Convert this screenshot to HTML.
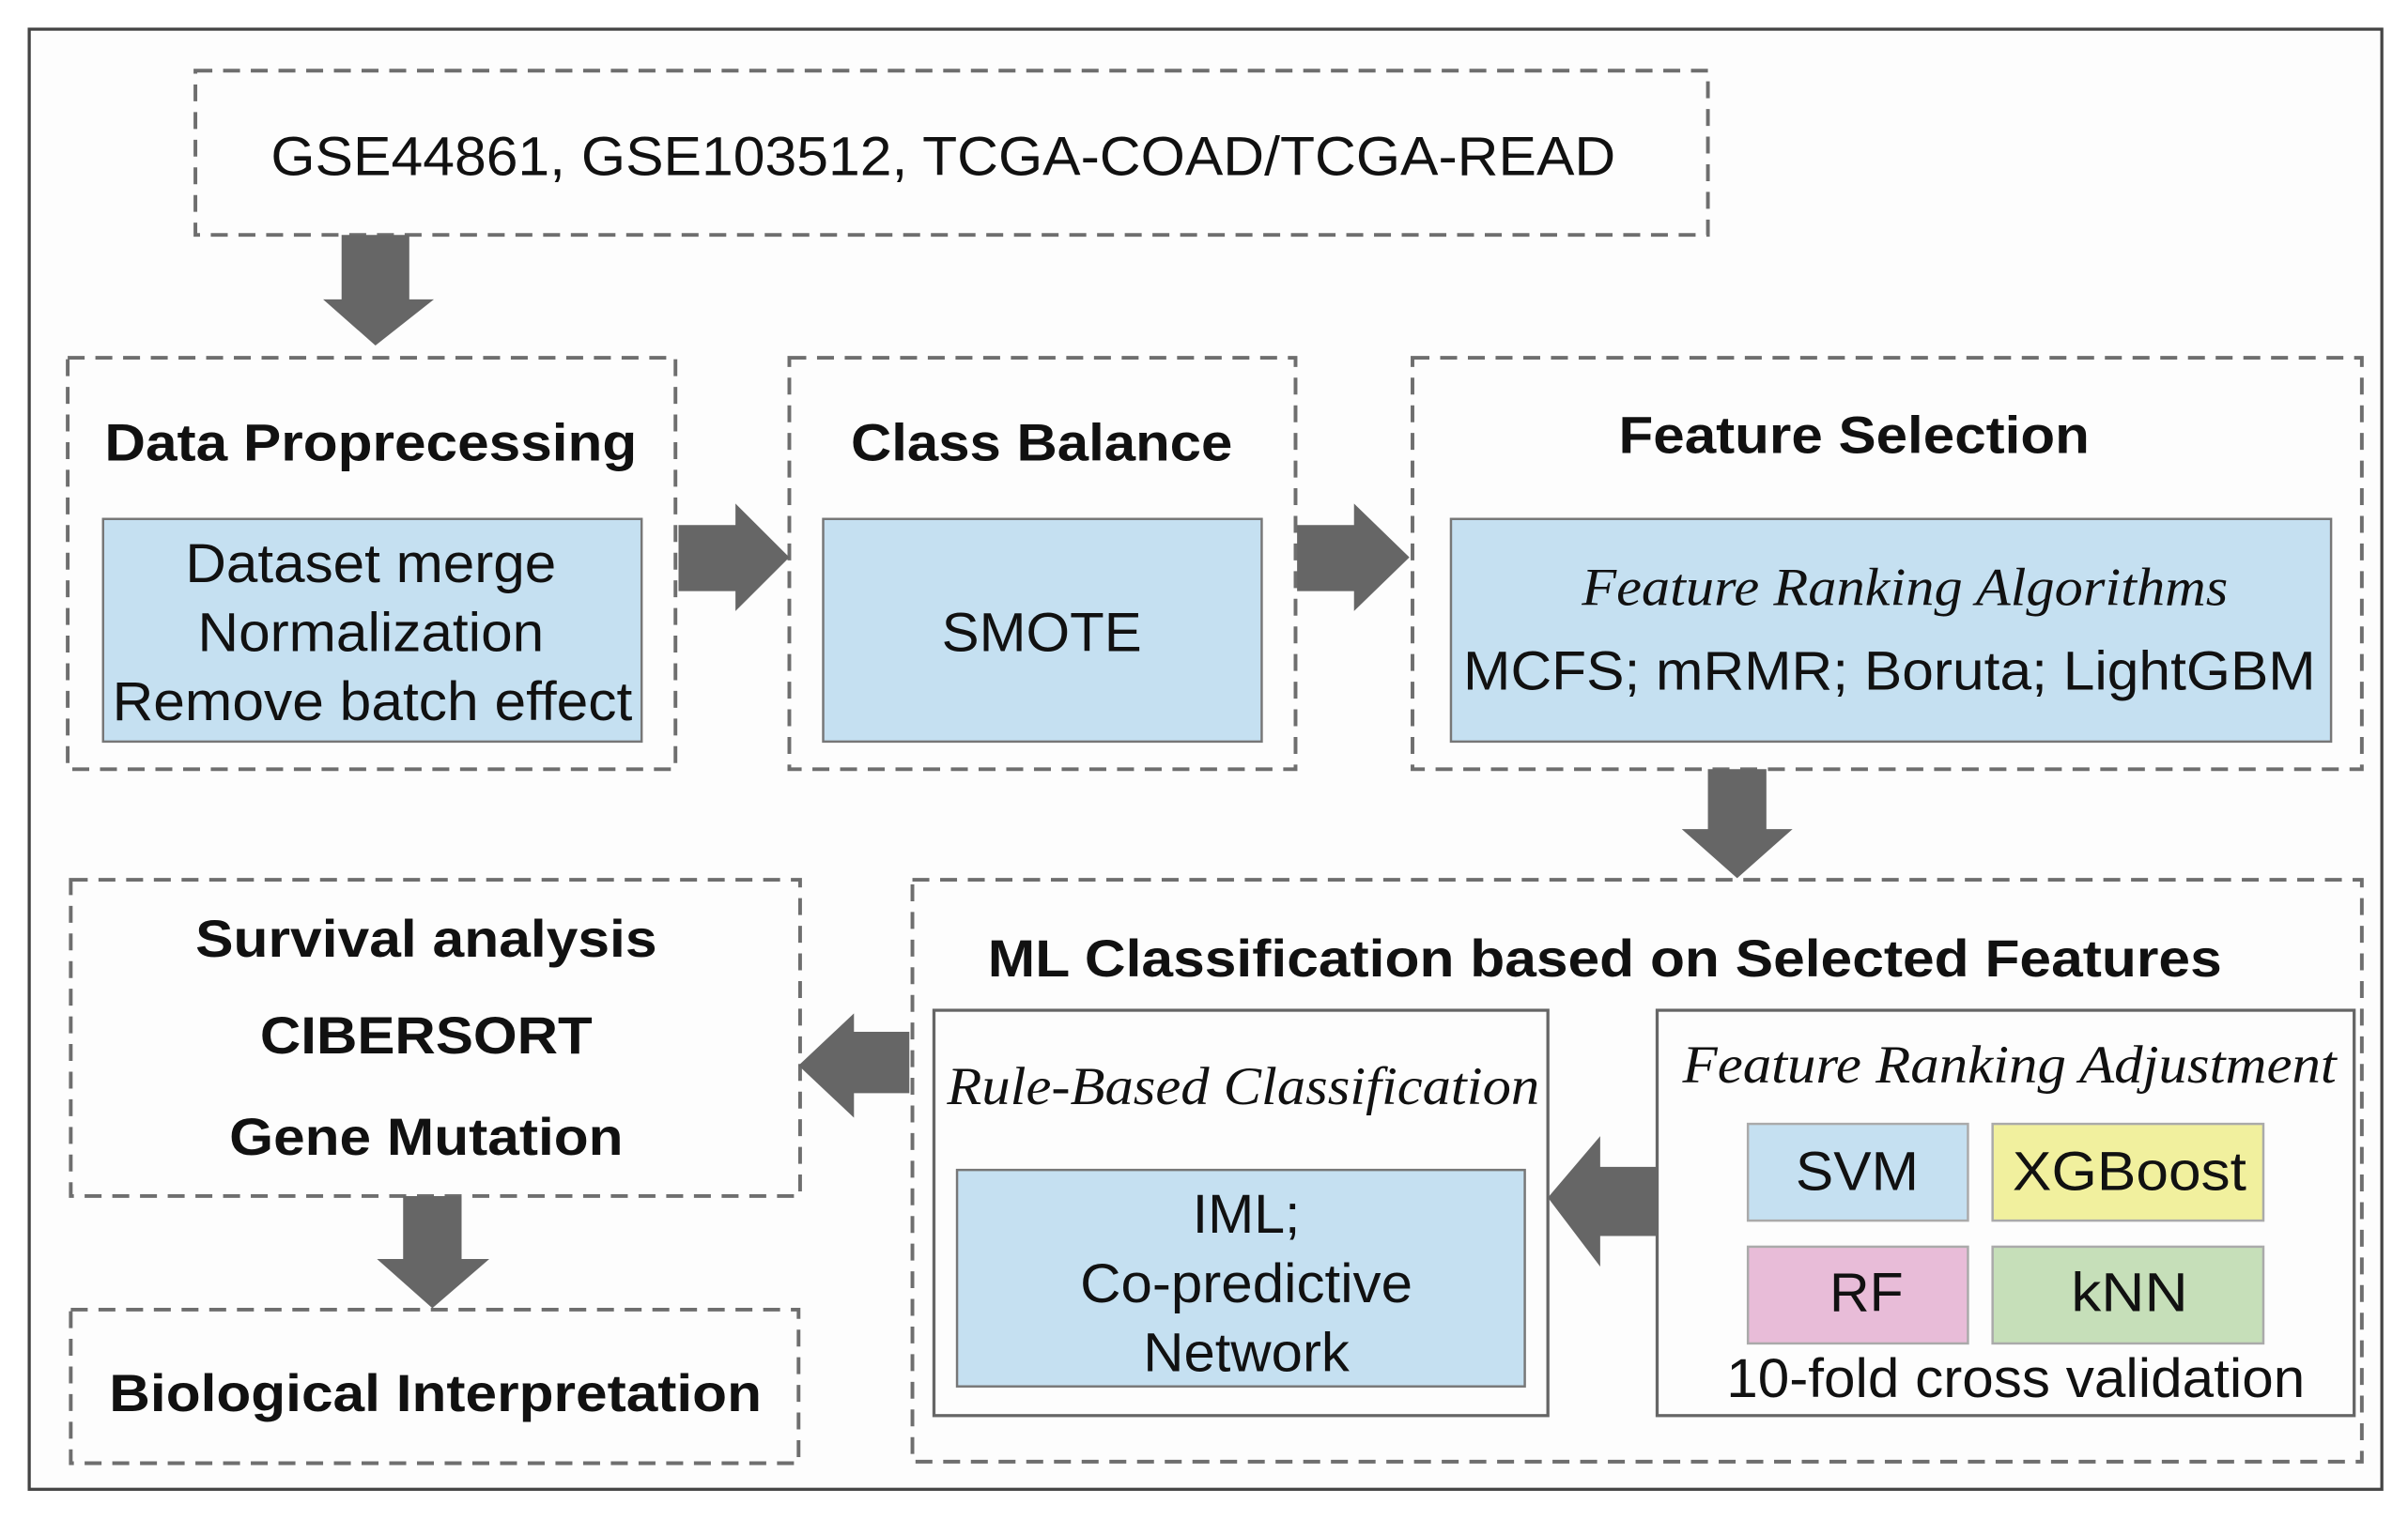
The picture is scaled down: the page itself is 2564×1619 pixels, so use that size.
<!DOCTYPE html>
<html><head><meta charset="utf-8"><style>
html,body{margin:0;padding:0;background:#fff;}
svg{display:block;}
text{font-family:"Liberation Sans",sans-serif;fill:#111;}
.b{font-weight:bold;}
.i{font-family:"Liberation Serif",serif;font-style:italic;}
</style></head><body>
<svg width="2564" height="1619" viewBox="0 0 1565 990" preserveAspectRatio="none" xmlns="http://www.w3.org/2000/svg">
<rect x="0" y="0" width="1565" height="990" fill="#fff"/>
<rect x="19" y="19" width="1529" height="951" fill="#fdfdfd" stroke="#444" stroke-width="2"/>
<g fill="none" stroke="#6e6e6e" stroke-width="2.4" stroke-dasharray="11 7">
<rect x="127" y="46" width="983" height="107"/>
<rect x="44" y="233" width="395" height="268"/>
<rect x="513" y="233" width="329" height="268"/>
<rect x="918" y="233" width="617" height="268"/>
<rect x="593" y="573" width="942" height="379"/>
<rect x="46" y="573" width="474" height="206"/>
<rect x="46" y="853" width="473" height="100"/>
</g>
<g stroke="#777" stroke-width="1.5">
<rect x="67" y="338" width="350" height="145" fill="#c5e0f1"/>
<rect x="535" y="338" width="285" height="145" fill="#c5e0f1"/>
<rect x="943" y="338" width="572" height="145" fill="#c5e0f1"/>
<rect x="607" y="658" width="399" height="264" fill="#fdfdfd" stroke="#666" stroke-width="2"/>
<rect x="622" y="762" width="369" height="141" fill="#c5e0f1"/>
<rect x="1077" y="658" width="453" height="264" fill="#fdfdfd" stroke="#666" stroke-width="2"/>
<rect x="1136" y="732" width="143" height="63" fill="#c5e0f1" stroke="#aaa"/>
<rect x="1295" y="732" width="176" height="63" fill="#f1f09e" stroke="#aaa"/>
<rect x="1136" y="812" width="143" height="63" fill="#e8bcd8" stroke="#aaa"/>
<rect x="1295" y="812" width="176" height="63" fill="#c6dfb9" stroke="#aaa"/>
</g>
<g fill="#666">
<polygon points="222,153 266,153 266,195 282,195 244,225 210,195 222,195"/>
<polygon points="441,342 478,342 478,328 513,363 478,398 478,385 441,385"/>
<polygon points="843,342 880,342 880,328 916,363 880,398 880,385 843,385"/>
<polygon points="1110,501 1148,501 1148,540 1165,540 1129,572 1093,540 1110,540"/>
<polygon points="1077,760 1040,760 1040,740 1006,780 1040,825 1040,805 1077,805"/>
<polygon points="591,672 555,672 555,660 519,694 555,728 555,712 591,712"/>
<polygon points="262,779 300,779 300,820 318,820 281,852 245,820 262,820"/>
</g>
<text x="613" y="114" font-size="36" text-anchor="middle" textLength="874" lengthAdjust="spacingAndGlyphs">GSE44861, GSE103512, TCGA-COAD/TCGA-READ</text>
<text class="b" x="241" y="300" font-size="34" text-anchor="middle" textLength="346" lengthAdjust="spacingAndGlyphs">Data Proprecessing</text>
<text x="241" y="379" font-size="36" text-anchor="middle" textLength="241" lengthAdjust="spacingAndGlyphs">Dataset merge</text>
<text x="241" y="424" font-size="36" text-anchor="middle" textLength="225" lengthAdjust="spacingAndGlyphs">Normalization</text>
<text x="242" y="469" font-size="36" text-anchor="middle" textLength="338" lengthAdjust="spacingAndGlyphs">Remove batch effect</text>
<text class="b" x="677" y="300" font-size="34" text-anchor="middle" textLength="248" lengthAdjust="spacingAndGlyphs">Class Balance</text>
<text x="677" y="424" font-size="36" text-anchor="middle" textLength="130" lengthAdjust="spacingAndGlyphs">SMOTE</text>
<text class="b" x="1205" y="295" font-size="34" text-anchor="middle" textLength="306" lengthAdjust="spacingAndGlyphs">Feature Selection</text>
<text class="i" x="1238" y="394" font-size="35" text-anchor="middle" textLength="420" lengthAdjust="spacingAndGlyphs">Feature Ranking Algorithms</text>
<text x="1228" y="449" font-size="36" text-anchor="middle" textLength="554" lengthAdjust="spacingAndGlyphs">MCFS; mRMR; Boruta; LightGBM</text>
<text class="b" x="1043" y="636" font-size="34" text-anchor="middle" textLength="802" lengthAdjust="spacingAndGlyphs">ML Classification based on Selected Features</text>
<text class="i" x="808" y="719" font-size="35" text-anchor="middle" textLength="385" lengthAdjust="spacingAndGlyphs">Rule-Based Classification</text>
<text x="810" y="803" font-size="36" text-anchor="middle" textLength="70" lengthAdjust="spacingAndGlyphs">IML;</text>
<text x="810" y="848" font-size="36" text-anchor="middle" textLength="216" lengthAdjust="spacingAndGlyphs">Co-predictive</text>
<text x="810" y="893" font-size="36" text-anchor="middle" textLength="134" lengthAdjust="spacingAndGlyphs">Network</text>
<text class="i" x="1306" y="705" font-size="35" text-anchor="middle" textLength="425" lengthAdjust="spacingAndGlyphs">Feature Ranking Adjustment</text>
<text x="1207" y="775" font-size="36" text-anchor="middle" textLength="80" lengthAdjust="spacingAndGlyphs">SVM</text>
<text x="1384" y="775" font-size="36" text-anchor="middle" textLength="152" lengthAdjust="spacingAndGlyphs">XGBoost</text>
<text x="1213" y="854" font-size="36" text-anchor="middle" textLength="48" lengthAdjust="spacingAndGlyphs">RF</text>
<text x="1384" y="854" font-size="36" text-anchor="middle" textLength="76" lengthAdjust="spacingAndGlyphs">kNN</text>
<text x="1310" y="910" font-size="36" text-anchor="middle" textLength="376" lengthAdjust="spacingAndGlyphs">10-fold cross validation</text>
<text class="b" x="277" y="623" font-size="34" text-anchor="middle" textLength="300" lengthAdjust="spacingAndGlyphs">Survival analysis</text>
<text class="b" x="277" y="686" font-size="34" text-anchor="middle" textLength="216" lengthAdjust="spacingAndGlyphs">CIBERSORT</text>
<text class="b" x="277" y="752" font-size="34" text-anchor="middle" textLength="256" lengthAdjust="spacingAndGlyphs">Gene Mutation</text>
<text class="b" x="283" y="919" font-size="34" text-anchor="middle" textLength="424" lengthAdjust="spacingAndGlyphs">Biological Interpretation</text>
</svg>
</body></html>
